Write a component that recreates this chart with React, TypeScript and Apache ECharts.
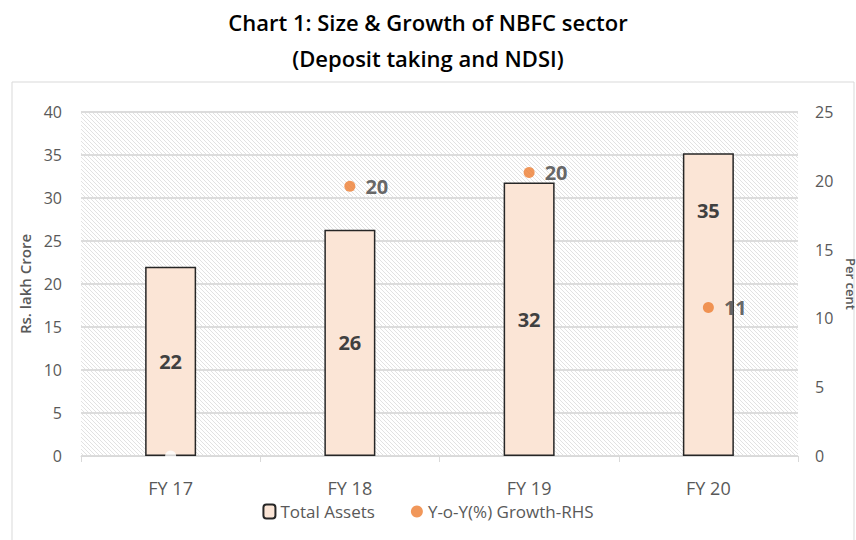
import React, { useEffect, useRef } from "react";
import * as echarts from "echarts";

const categories = ["FY 17", "FY 18", "FY 19", "FY 20"];
const totalAssets = [22, 26.3, 31.8, 35.2];
const assetLabels = ["22", "26", "32", "35"];
const growth = [0, 19.6, 20.6, 10.8];
const growthLabels = ["", "20", "20", "11"];
const leftTicks = { min: 0, max: 40, interval: 5 };
const rightTicks = { min: 0, max: 25, interval: 5 };

const FONT = "'Open Sans', 'Noto Sans', sans-serif";

const hatchSvg =
  '<svg xmlns="http://www.w3.org/2000/svg" width="4" height="4">' +
  '<rect width="4" height="4" fill="#ffffff"/>' +
  '<path d="M-1,-1 L5,5 M-1,3 L1,5 M3,-1 L5,1" stroke="#e2e2e2" stroke-width="1"/>' +
  "</svg>";
const hatchUrl = "data:image/svg+xml;charset=utf-8," + encodeURIComponent(hatchSvg);

export default function App() {
  const ref = useRef<HTMLDivElement>(null);
  useEffect(() => {
    if (!ref.current) return;
    const chart = echarts.init(ref.current, null, { renderer: "svg" });
    const barData = totalAssets.map((v, i) => ({
      value: v,
      label:
        i === 3
          ? { position: "insideTop", distance: 47, formatter: assetLabels[i] }
          : { formatter: assetLabels[i] },
    }));
    const dotData = growth.map((v, i) =>
      growthLabels[i] === ""
        ? { value: v, itemStyle: { color: "#ffffff" }, label: { show: false } }
        : { value: v, label: { formatter: growthLabels[i] } }
    );
    chart.setOption({
      animation: false,
      backgroundColor: "#ffffff",
      title: {
        text: "Chart 1: Size & Growth of NBFC sector\n(Deposit taking and NDSI)",
        left: "center",
        top: 4,
        padding: 0,
        textStyle: {
          fontFamily: FONT,
          fontSize: 22,
          fontWeight: 600,
          color: "#000000",
          lineHeight: 36,
        },
      },
      graphic: [
        {
          type: "rect",
          shape: { x: 12, y: 82, width: 842, height: 470 },
          style: { fill: "none", stroke: "#d9d9d9", lineWidth: 1 },
          silent: true,
          z: -1,
        },
      ],
      grid: {
        left: 81,
        right: 58,
        top: 112,
        bottom: 84,
        show: true,
        borderWidth: 0,
        containLabel: false,
        outerBoundsMode: "none",
        backgroundColor: { image: hatchUrl, repeat: "repeat" },
      },
      legend: {
        bottom: 15,
        left: "center",
        itemGap: 36,
        itemWidth: 12,
        itemHeight: 14,
        textStyle: { fontFamily: FONT, fontSize: 17, color: "#595959" },
        data: [
          { name: "Total Assets" },
          { name: "Y-o-Y(%) Growth-RHS", icon: "circle", itemWidth: 12, itemHeight: 12 },
        ],
      },
      xAxis: {
        type: "category",
        data: categories,
        boundaryGap: true,
        axisLine: { lineStyle: { color: "#d9d9d9", width: 1 } },
        axisTick: { show: true, length: 6, lineStyle: { color: "#d9d9d9" } },
        axisLabel: { margin: 23, fontFamily: FONT, fontSize: 18, color: "#595959" },
      },
      yAxis: [
        {
          type: "value",
          ...leftTicks,
          name: "Rs. lakh Crore",
          nameLocation: "middle",
          nameGap: 46,
          nameTextStyle: { fontFamily: FONT, fontSize: 15, fontWeight: 600, color: "#595959" },
          axisLine: { show: false },
          axisTick: { show: false },
          axisLabel: { margin: 19, fontFamily: FONT, fontSize: 16, color: "#595959" },
          splitLine: { lineStyle: { color: "#dcdcdc", width: 2 } },
        },
        {
          type: "value",
          ...rightTicks,
          position: "right",
          name: "Per cent",
          nameLocation: "middle",
          nameGap: 42,
          nameRotate: -90,
          nameTextStyle: { fontFamily: FONT, fontSize: 13, fontWeight: 600, color: "#595959" },
          axisLine: { show: false },
          axisTick: { show: false },
          axisLabel: { margin: 17, fontFamily: FONT, fontSize: 16, color: "#595959" },
          splitLine: { show: false },
        },
      ],
      series: [
        {
          name: "Total Assets",
          type: "bar",
          yAxisIndex: 0,
          barWidth: 51,
          data: barData,
          itemStyle: { color: "#fbe5d6", borderColor: "#262626", borderWidth: 1.5 },
          label: {
            show: true,
            position: "inside",
            fontFamily: FONT,
            fontSize: 20,
            fontWeight: "bold",
            color: "#404040",
          },
        },
        {
          name: "Y-o-Y(%) Growth-RHS",
          type: "scatter",
          yAxisIndex: 1,
          symbolSize: 11,
          data: dotData,
          itemStyle: { color: "#ed7d31" },
          label: {
            show: true,
            position: "right",
            distance: 10,
            fontFamily: FONT,
            fontSize: 20,
            fontWeight: "bold",
            color: "#404040",
          },
          z: 3,
        },
      ],
    });
    return () => chart.dispose();
  }, []);
  return (
    <div
      ref={ref}
      style={{ position: "fixed", left: 0, top: 0, width: 856, height: 540 }}
    />
  );
}
